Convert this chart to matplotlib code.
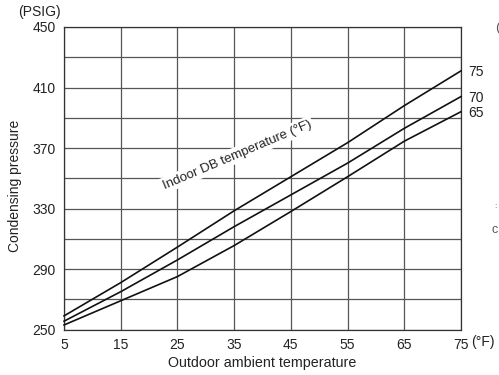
import matplotlib
matplotlib.use('Agg')
import matplotlib.pyplot as plt
import numpy as np

# outdoor ambient temperature (F)
outdoor = [5, 15, 25, 35, 45, 55, 65, 75]
# condensing pressure (PSIG) for each indoor DB temperature
p75 = [259, 281, 304.5, 328.5, 351, 373.5, 398, 421]
p70 = [255.5, 275, 296, 318, 339, 360, 383, 404]
p65 = [253, 269, 285, 305.5, 328, 351, 374.5, 394]
indoor_labels = ['75', '70', '65']

yticks = [250, 290, 330, 370, 410, 450]
xticks = [5, 15, 25, 35, 45, 55, 65, 75]

plt.rcParams['font.family'] = 'Liberation Sans'

fig = plt.figure(figsize=(4.99, 3.75), dpi=100)
ax = fig.add_axes([0.1283, 0.1213, 0.7955, 0.8067])

ax.set_xlim(5, 75)
ax.set_ylim(250, 450)
ax.set_xticks(xticks)
ax.set_yticks(yticks)
ax.set_yticks(np.arange(250, 451, 20), minor=True)
ax.tick_params(which='both', length=0, labelsize=10, colors='#222222', pad=6)
ax.grid(True, which='both', color='#555555', linewidth=0.9, zorder=1)
ax.set_axisbelow(True)
for s in ax.spines.values():
    s.set_color('#333333')
    s.set_linewidth(0.9)

for vals, lab in zip([p75, p70, p65], indoor_labels):
    ax.plot(outdoor, vals, color='#111111', linewidth=1.2, zorder=4, clip_on=False)
    ax.annotate(lab, xy=(75, vals[-1]), xytext=(5, -1), textcoords='offset points',
                fontsize=10, color='#222222', va='center', ha='left', annotation_clip=False)

ax.text(35.5, 365.5, 'Indoor DB temperature (\u00b0F)', rotation=23, fontsize=9.5,
        color='#222222', ha='center', va='center', zorder=3,
        bbox=dict(facecolor='white', edgecolor='none', pad=1.5))

fig.text(0.525, 0.032, 'Outdoor ambient temperature', fontsize=10.3, color='#222222',
         ha='center', va='center')
fig.text(0.030, 0.504, 'Condensing pressure', fontsize=10, color='#222222',
         rotation=90, ha='center', va='center')

fig.text(0.036, 0.968, '(PSIG)', fontsize=10, color='#222222', va='center', ha='left')
fig.text(0.944, 0.088, '(\u00b0F)', fontsize=10, color='#222222', va='center', ha='left')
fig.text(0.992, 0.925, '(', fontsize=9.5, color='#555555', va='center', ha='left')
fig.text(0.990, 0.448, ':', fontsize=6, color='#555555', va='center', ha='left')
fig.text(0.985, 0.387, 'c', fontsize=9, color='#555555', va='center', ha='left')

fig.savefig('out.png', dpi=100)
